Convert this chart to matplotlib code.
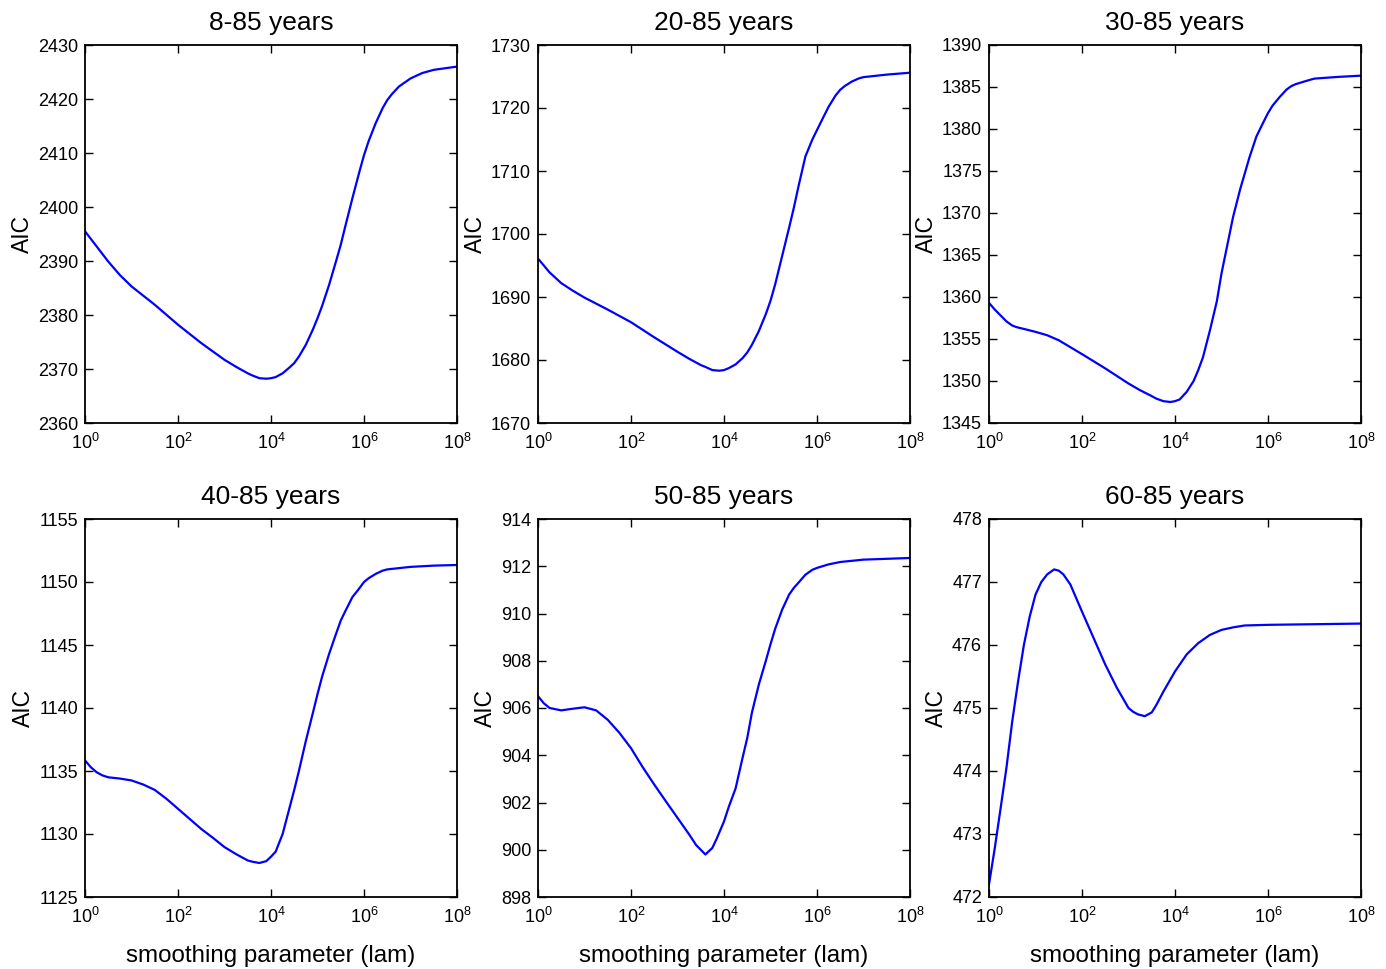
import numpy as np
import matplotlib
matplotlib.use('Agg')
import matplotlib.pyplot as plt

plt.rcParams['font.family'] = ['Liberation Sans', 'DejaVu Sans']
plt.rcParams['mathtext.fontset'] = 'custom'
plt.rcParams['mathtext.rm'] = 'Liberation Sans'

# age groups (panel titles)
titles = ['8-85 years', '20-85 years', '30-85 years',
          '40-85 years', '50-85 years', '60-85 years']

# log10(lam) sample points
exp_a = [0, 0.25, 0.5, 0.75, 1, 1.5, 2, 2.5, 3, 3.25, 3.5, 3.6, 3.75, 3.9, 4,
         4.1, 4.25, 4.4, 4.5, 4.6, 4.75, 4.9, 5, 5.1, 5.25, 5.4, 5.5, 5.6, 5.75,
         5.9, 6, 6.1, 6.25, 6.4, 6.5, 6.6, 6.75, 6.9, 7, 7.25, 7.5, 8]
aic_8 = [2395.5, 2392.7, 2389.9, 2387.4, 2385.3, 2381.9, 2378.2, 2374.8, 2371.7,
         2370.4, 2369.2, 2368.8, 2368.3, 2368.2, 2368.3, 2368.5, 2369.2, 2370.3,
         2371.1, 2372.3, 2374.5, 2377.3, 2379.4, 2381.7, 2385.6, 2390.0, 2393.0,
         2396.5, 2401.6, 2406.5, 2409.6, 2412.2, 2415.5, 2418.3, 2419.8, 2420.9,
         2422.3, 2423.2, 2423.8, 2424.8, 2425.4, 2426.0]
aic_20 = [1696.1, 1693.9, 1692.2, 1691.0, 1689.9, 1688.0, 1686.0, 1683.6, 1681.3,
          1680.2, 1679.2, 1678.9, 1678.4, 1678.3, 1678.4, 1678.7, 1679.3, 1680.3,
          1681.2, 1682.4, 1684.6, 1687.3, 1689.4, 1692.0, 1696.5, 1701.0, 1704.1,
          1707.5, 1712.3, 1715.0, 1716.5, 1718.0, 1720.2, 1722.0, 1722.9, 1723.5,
          1724.2, 1724.7, 1724.9, 1725.1, 1725.3, 1725.6]

exp_b = [0, 0.125, 0.25, 0.375, 0.5, 0.6, 0.75, 1, 1.25, 1.5, 2, 2.5, 3, 3.25,
         3.5, 3.6, 3.75, 3.9, 4, 4.1, 4.25, 4.4, 4.5, 4.6, 4.75, 4.9, 5, 5.1,
         5.25, 5.4, 5.5, 5.6, 5.75, 5.9, 6, 6.1, 6.25, 6.4, 6.5, 6.6, 6.75, 6.9,
         7, 7.25, 7.5, 8]
aic_30 = [1359.3, 1358.5, 1357.8, 1357.1, 1356.6, 1356.4, 1356.2, 1355.85,
          1355.45, 1354.85, 1353.2, 1351.5, 1349.7, 1348.9, 1348.2, 1347.9,
          1347.6, 1347.5, 1347.6, 1347.8, 1348.7, 1350.0, 1351.3, 1352.8, 1356.0,
          1359.5, 1362.8, 1365.5, 1369.55, 1372.8, 1374.7, 1376.6, 1379.1,
          1380.8, 1381.9, 1382.8, 1383.8, 1384.7, 1385.1, 1385.35, 1385.6,
          1385.85, 1386.0, 1386.1, 1386.2, 1386.35]

exp_c = [0, 0.125, 0.25, 0.375, 0.5, 0.75, 1, 1.25, 1.5, 1.75, 2, 2.25, 2.5,
         2.75, 3, 3.25, 3.5, 3.6, 3.75, 3.9, 4, 4.1, 4.25, 4.4, 4.5, 4.6, 4.75,
         4.9, 5, 5.1, 5.25, 5.4, 5.5, 5.6, 5.75, 5.9, 6, 6.1, 6.25, 6.4, 6.5,
         6.75, 7, 7.5, 8]
aic_40 = [1135.84, 1135.3, 1134.9, 1134.65, 1134.5, 1134.4, 1134.25, 1133.93,
          1133.5, 1132.8, 1132.0, 1131.2, 1130.4, 1129.7, 1128.96, 1128.4,
          1127.9, 1127.8, 1127.7, 1127.85, 1128.2, 1128.6, 1130.0, 1132.1,
          1133.5, 1135.0, 1137.4, 1139.6, 1141.1, 1142.5, 1144.3, 1145.9,
          1146.94, 1147.7, 1148.8, 1149.5, 1150.0, 1150.3, 1150.64, 1150.9,
          1151.0, 1151.1, 1151.2, 1151.3, 1151.35]

exp_d = [0, 0.125, 0.25, 0.5, 0.75, 1, 1.25, 1.5, 1.75, 2, 2.25, 2.5, 2.75, 3,
         3.25, 3.4, 3.5, 3.6, 3.75, 3.85, 4, 4.1, 4.25, 4.4, 4.5, 4.6, 4.75,
         4.9, 5, 5.1, 5.25, 5.4, 5.5, 5.6, 5.75, 5.9, 6, 6.25, 6.5, 7, 8]
aic_50 = [906.5, 906.2, 906.0, 905.9, 905.97, 906.03, 905.9, 905.5, 904.95,
          904.3, 903.5, 902.76, 902.05, 901.35, 900.65, 900.2, 900.0, 899.8,
          900.08, 900.5, 901.2, 901.8, 902.6, 903.9, 904.73, 905.8, 907.0,
          908.0, 908.7, 909.35, 910.16, 910.8, 911.08, 911.3, 911.64, 911.85,
          911.93, 912.08, 912.18, 912.28, 912.35]

exp_e = [0, 0.125, 0.25, 0.375, 0.5, 0.625, 0.75, 0.875, 1, 1.125, 1.25, 1.4,
         1.5, 1.6, 1.75, 2, 2.25, 2.5, 2.75, 3, 3.1, 3.2, 3.35, 3.5, 3.6, 3.75,
         4, 4.25, 4.5, 4.75, 5, 5.25, 5.5, 6, 7, 8]
aic_60 = [472.2, 472.78, 473.41, 474.05, 474.79, 475.42, 476.0, 476.45, 476.8,
          477.0, 477.12, 477.2, 477.18, 477.12, 476.96, 476.53, 476.11, 475.69,
          475.32, 475.0, 474.94, 474.9, 474.87, 474.93, 475.05, 475.26, 475.58,
          475.85, 476.03, 476.16, 476.24, 476.28, 476.31, 476.32, 476.33, 476.34]

exps = [exp_a, exp_a, exp_b, exp_c, exp_d, exp_e]
aics = [aic_8, aic_20, aic_30, aic_40, aic_50, aic_60]

# y axis limits and tick step per panel
ylims = [(2360, 2430), (1670, 1730), (1345, 1390), (1125, 1155), (898, 914), (472, 478)]
ysteps = [10, 10, 5, 5, 2, 1]

fig = plt.figure(figsize=(13.86, 9.69), dpi=100)
W, H = 1386., 969.
lefts = [85, 538, 989]
tops = [45, 519]
aw, ah = 372, 378

for i in range(6):
    r, c = i // 3, i % 3
    ax = fig.add_axes([lefts[c] / W, (H - tops[r] - ah) / H, aw / W, ah / H])
    lam = 10.0 ** np.array(exps[i])
    ax.plot(lam, aics[i], color='#0000ff', lw=1.6)
    ax.set_xscale('log')
    ax.set_xlim(1, 1e8)
    ax.set_xticks([1, 1e2, 1e4, 1e6, 1e8])
    ax.minorticks_off()
    lo, hi = ylims[i]
    ax.set_ylim(lo, hi)
    ax.set_yticks(np.arange(lo, hi + 0.01, ysteps[i]))
    ax.tick_params(direction='in', top=True, right=True, length=6, width=1,
                   labelsize=13, pad=5)
    ax.tick_params(axis='x', pad=7)
    for s in ax.spines.values():
        s.set_linewidth(1.3)
    ax.set_title(titles[i], fontsize=19, pad=11)
    ax.set_ylabel('AIC', fontsize=16.5, labelpad=3)
    if r == 1:
        ax.set_xlabel('smoothing parameter (lam)', fontsize=17.4, labelpad=13)

fig.savefig('out.png', dpi=100)
